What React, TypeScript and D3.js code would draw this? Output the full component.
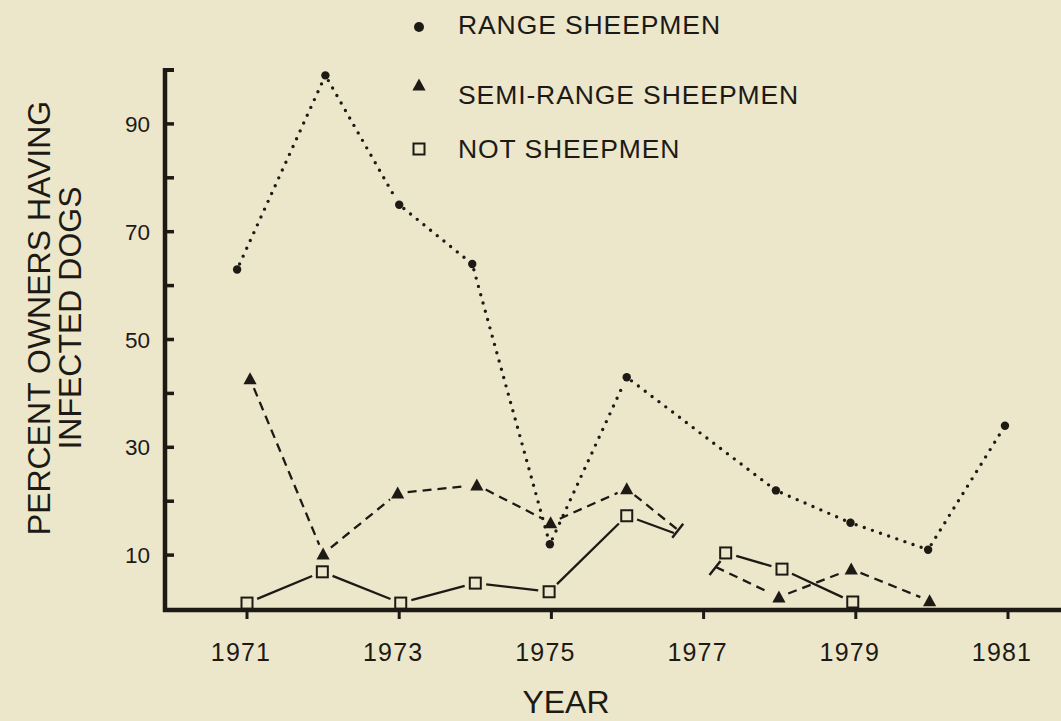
import React, { useEffect, useRef } from 'react';
import * as d3 from 'd3';

// values (x = year as plotted, y = percent)
const rangeYears = [1970.87, 1972.03, 1973.0, 1973.96, 1974.98, 1975.99, 1977.95, 1978.93, 1979.95, 1980.96];
const rangeValues = [63, 99, 75, 64, 12, 43, 22, 16, 11, 34];

const semiYears = [1971.04, 1972.0, 1972.98, 1974.02, 1974.99, 1975.99, 1977.99, 1978.94, 1979.97];
const semiValues = [42.7, 10.2, 21.5, 23, 16, 22.3, 2.2, 7.4, 1.5];
const semiBreakEnd = [1976.66, 14.7];
const semiBreakStart = [1977.16, 7.8];

const notYears = [1971.0, 1971.99, 1973.02, 1974.0, 1974.97, 1975.99, 1977.29, 1978.03, 1978.96];
const notValues = [1.1, 6.9, 1.1, 4.8, 3.2, 17.3, 10.4, 7.4, 1.3];
const notBreakEnd = [1976.61, 14.1];

const breakMarks = [[1976.66, 14.5], [1977.15, 7.6]];

const yTicks = [10, 20, 30, 40, 50, 60, 70, 80, 90];
const yLabels = [10, 30, 50, 70, 90];
const xTicks = [1971, 1973, 1975, 1977, 1979, 1981];

const legendLabels = ['RANGE SHEEPMEN', 'SEMI-RANGE SHEEPMEN', 'NOT SHEEPMEN'];

const INK = '#1d1a16';
const BG = '#ece6ca';
const FONT = '"Liberation Sans", Arial, Helvetica, sans-serif';

export default function App() {
    const ref = useRef<SVGSVGElement>(null);

    useEffect(() => {
        const svg = d3.select(ref.current);
        svg.selectAll('*').remove();

        const x = d3.scaleLinear().domain([1971, 1981]).range([247, 1008]);
        const y = d3.scaleLinear().domain([0, 100]).range([609, 70]);

        // axes
        const ax = svg.append('g').attr('stroke', INK);
        ax.append('line').attr('x1', 165).attr('x2', 165).attr('y1', y(100) - 2).attr('y2', 612).attr('stroke-width', 4.5);
        ax.append('line').attr('x1', 163).attr('x2', 174).attr('y1', y(100)).attr('y2', y(100)).attr('stroke-width', 4);
        ax.append('line').attr('x1', 163).attr('x2', 1061).attr('y1', 610).attr('y2', 610).attr('stroke-width', 4.5);

        ax.selectAll('.yt').data(yTicks).enter().append('line')
            .attr('x1', 165).attr('x2', 174)
            .attr('y1', d => y(d)).attr('y2', d => y(d))
            .attr('stroke-width', 3.5);

        ax.selectAll('.xt').data(xTicks).enter().append('line')
            .attr('x1', d => x(d)).attr('x2', d => x(d))
            .attr('y1', 610).attr('y2', 619)
            .attr('stroke-width', 3);

        const txt = svg.append('g').attr('fill', INK).attr('font-family', FONT);

        txt.selectAll('.yl').data(yLabels).enter().append('text')
            .attr('x', 150).attr('y', d => y(d) + 8)
            .attr('text-anchor', 'end')
            .attr('font-size', 22.5)
            .text(d => d);

        txt.selectAll('.xl').data(xTicks).enter().append('text')
            .attr('x', d => x(d) - 6).attr('y', 661)
            .attr('text-anchor', 'middle')
            .attr('font-size', 25)
            .attr('letter-spacing', 1.2)
            .text(d => d);

        txt.append('text').attr('x', 566).attr('y', 713)
            .attr('text-anchor', 'middle').attr('font-size', 32)
            .text('YEAR');

        // y title, two lines
        const yl = txt.append('g').attr('transform', 'translate(0,318) rotate(-90)')
            .attr('text-anchor', 'middle').attr('font-size', 32);
        yl.append('text').attr('x', 0).attr('y', 50).text('PERCENT OWNERS HAVING');
        yl.append('text').attr('x', 0).attr('y', 81).text('INFECTED DOGS');

        // helpers
        const triPath = (s: number) => `M0,${-s * 0.55}L${s * 0.55},${s * 0.45}L${-s * 0.55},${s * 0.45}Z`;

        const drawLine = (pts: number[][], gaps: number[], opts: any) => {
            const px = pts.map(p => [x(p[0]), y(p[1])]);
            for (let i = 0; i < px.length - 1; i++) {
                const [x0, y0] = px[i];
                const [x1, y1] = px[i + 1];
                const len = Math.hypot(x1 - x0, y1 - y0);
                const ux = (x1 - x0) / len, uy = (y1 - y0) / len;
                svg.append('line')
                    .attr('x1', x0 + ux * gaps[i]).attr('y1', y0 + uy * gaps[i])
                    .attr('x2', x1 - ux * gaps[i + 1]).attr('y2', y1 - uy * gaps[i + 1])
                    .attr('stroke', INK)
                    .attr('stroke-width', opts.width)
                    .attr('stroke-dasharray', opts.dash)
                    .attr('stroke-linecap', opts.cap || 'butt');
            }
        };

        // range sheepmen (dotted)
        const rangePts = rangeYears.map((d, i) => [d, rangeValues[i]]);
        drawLine(rangePts, rangePts.map(() => 6), { width: 3.4, dash: '0 8.6', cap: 'round' });

        // semi-range (dashed), broken at 1976-77
        const semiPts = semiYears.map((d, i) => [d, semiValues[i]]);
        const semiA = [...semiPts.slice(0, 6), semiBreakEnd];
        const semiB = [semiBreakStart, ...semiPts.slice(6)];
        const dash = { width: 2.3, dash: '9 6' };
        drawLine(semiA, [10, 10, 10, 10, 10, 10, 0], dash);
        drawLine(semiB, [0, 10, 10, 10], dash);

        // not sheepmen (solid), broken at 1976-77
        const notPts = notYears.map((d, i) => [d, notValues[i]]);
        const notA = [...notPts.slice(0, 6), notBreakEnd];
        const notB = notPts.slice(6);
        const solid = { width: 2.3, dash: null };
        drawLine(notA, [11, 11, 11, 11, 11, 11, 0], solid);
        drawLine(notB, [11, 11, 11], solid);

        // break marks
        svg.selectAll('.brk').data(breakMarks).enter().append('line')
            .attr('x1', d => x(d[0]) - 5.5).attr('y1', d => y(d[1]) + 7)
            .attr('x2', d => x(d[0]) + 5.5).attr('y2', d => y(d[1]) - 7)
            .attr('stroke', INK).attr('stroke-width', 2.4);

        // markers
        svg.selectAll('.rc').data(rangePts).enter().append('circle')
            .attr('cx', d => x(d[0])).attr('cy', d => y(d[1])).attr('r', 4.2)
            .attr('fill', INK);

        svg.selectAll('.st').data(semiPts).enter().append('path')
            .attr('d', triPath(12))
            .attr('transform', d => `translate(${x(d[0])},${y(d[1])})`)
            .attr('fill', INK);

        svg.selectAll('.ns').data(notPts).enter().append('rect')
            .attr('x', d => x(d[0]) - 5.5).attr('y', d => y(d[1]) - 5.5)
            .attr('width', 11).attr('height', 11)
            .attr('fill', BG).attr('stroke', INK).attr('stroke-width', 2);

        // legend
        const lg = svg.append('g');
        const legendY = [34, 104, 158];
        lg.append('circle').attr('cx', 419).attr('cy', 27).attr('r', 5).attr('fill', INK);
        lg.append('path').attr('d', triPath(12)).attr('transform', 'translate(419,85)').attr('fill', INK);
        lg.append('rect').attr('x', 413.5).attr('y', 143.5).attr('width', 11).attr('height', 11)
            .attr('fill', 'none').attr('stroke', INK).attr('stroke-width', 2);
        lg.selectAll('.lt').data(legendLabels).enter().append('text')
            .attr('x', 458).attr('y', (d, i) => legendY[i])
            .attr('font-family', FONT).attr('font-size', 26.5)
            .attr('letter-spacing', 0.9)
            .attr('fill', INK)
            .text(d => d);
    }, []);

    return (
        <svg ref={ref} width={1061} height={721}
             style={{ position: 'absolute', left: 0, top: 0, background: BG }} />
    );
}
